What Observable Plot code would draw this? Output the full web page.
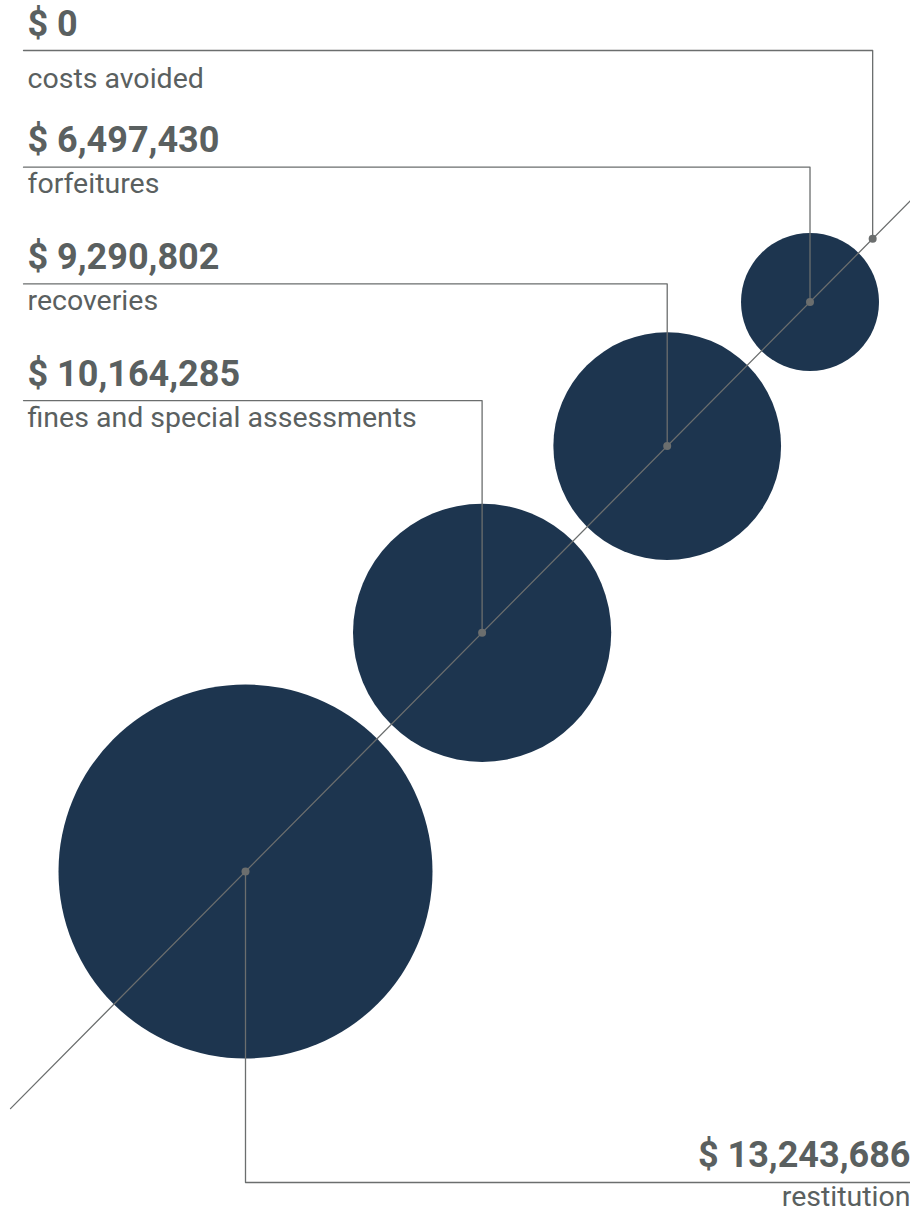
<!DOCTYPE html>
<html>
<head>
<meta charset="utf-8">
<script src="https://cdn.jsdelivr.net/npm/d3@7"></script>
<script src="https://cdn.jsdelivr.net/npm/@observablehq/plot@0.6"></script>
<style>
  html, body { margin: 0; padding: 0; background: #ffffff; }
  #chart svg { display: block; }
</style>
</head>
<body>
<div id="chart"></div>
<script>
// ---- data (largest first) ----
const categories = ["restitution", "fines and special assessments", "recoveries", "forfeitures", "costs avoided"];
const amounts = [13243686, 10164285, 9290802, 6497430, 0];

// ---- layout & style ----
const W = 910, H = 1216;
const circleFill = "#1d354f";
const lineColor = "#6b6e6e";
const textColor = "#5a6060";
const origin = {x: 245, y: 871};          // center of the largest bubble
const dirRaw = {x: 900, y: -908};          // diagonal direction
const norm = Math.hypot(dirRaw.x, dirRaw.y);
const dir = {x: dirRaw.x / norm, y: dirRaw.y / norm};
const gap = 20;
const topLineY = 50, labelStep = 116.7, textLeft = 27, lineLeft = 23;
const bottomLineY = 1182;

const rOptions = {type: "pow", exponent: 1.4, domain: [0, d3.max(amounts)], range: [0, 187]};
const rScale = Plot.scale({r: rOptions});

// place bubbles along the diagonal, each separated by a constant gap
const rows = [];
let s = 0;
categories.forEach((c, i) => {
  const r = rScale.apply(amounts[i]);
  if (i > 0) s += rows[i - 1].rad + gap + r;
  rows.push({category: c, amount: amounts[i], rad: r, cx: origin.x + s * dir.x, cy: origin.y + s * dir.y});
});

const fmt = d3.format(",");
const n = rows.length;
const leaders = [];
const leftValues = [], leftLabels = [], rightValues = [], rightLabels = [];
rows.forEach((d, i) => {
  if (i === 0) {
    leaders.push({id: i, x: d.cx, y: d.cy}, {id: i, x: d.cx, y: bottomLineY}, {id: i, x: W, y: bottomLineY});
    rightValues.push({x: W, y: bottomLineY - 16, t: "$ " + fmt(d.amount)});
    rightLabels.push({x: W, y: bottomLineY + 23, t: d.category});
  } else {
    const k = n - 1 - i;
    const ly = topLineY + k * labelStep;
    leaders.push({id: i, x: lineLeft, y: ly}, {id: i, x: d.cx, y: ly}, {id: i, x: d.cx, y: d.cy});
    leftValues.push({x: textLeft, y: ly - 15, t: "$ " + fmt(d.amount)});
    leftLabels.push({x: textLeft, y: ly + (k === 0 ? 37 : 26), t: d.category});
  }
});

const t0 = (10 - origin.x) / dir.x, t1 = (W - origin.x) / dir.x;
const diagonal = [
  {x: origin.x + t0 * dir.x, y: origin.y + t0 * dir.y},
  {x: origin.x + t1 * dir.x, y: origin.y + t1 * dir.y}
];

const valueStyle = {x: "x", y: "y", text: "t", lineAnchor: "bottom", fontSize: 36, fontWeight: 700, fill: textColor};
const labelStyle = {x: "x", y: "y", text: "t", lineAnchor: "bottom", fontSize: 28.5, fontWeight: 400, fill: textColor};

const chart = Plot.plot({
  width: W,
  height: H,
  margin: 0,
  style: {fontFamily: "Roboto, 'Liberation Sans', sans-serif", background: "#ffffff"},
  x: {domain: [0, W], range: [0, W], axis: null},
  y: {domain: [0, H], range: [0, H], axis: null},
  r: rOptions,
  marks: [
    Plot.dot(rows, {x: "cx", y: "cy", r: "amount", fill: circleFill, stroke: "none"}),
    Plot.line(diagonal, {x: "x", y: "y", stroke: lineColor, strokeWidth: 1.3}),
    Plot.line(leaders, {x: "x", y: "y", z: "id", stroke: lineColor, strokeWidth: 1.3, curve: "linear"}),
    Plot.dot(rows, {x: "cx", y: "cy", r: 4, fill: lineColor, stroke: "none"}),
    Plot.text(leftValues, {...valueStyle, textAnchor: "start"}),
    Plot.text(leftLabels, {...labelStyle, textAnchor: "start"}),
    Plot.text(rightValues, {...valueStyle, textAnchor: "end"}),
    Plot.text(rightLabels, {...labelStyle, textAnchor: "end"})
  ]
});
document.getElementById("chart").appendChild(chart);
</script>
</body>
</html>
